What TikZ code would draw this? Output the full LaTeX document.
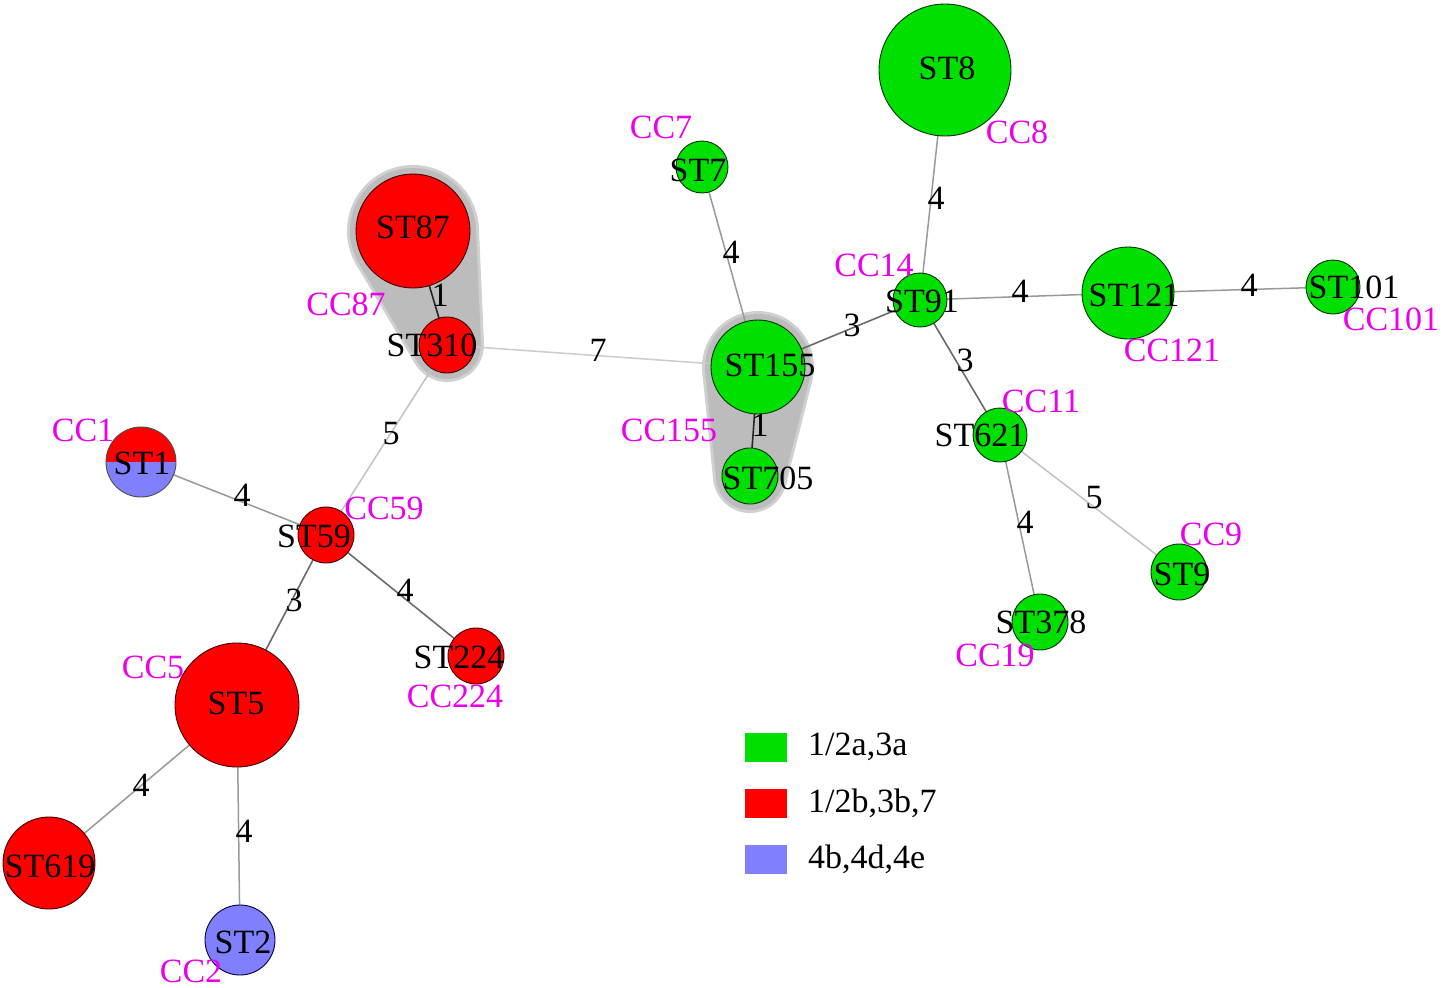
\documentclass[tikz,border=0pt]{standalone}
\usepackage{fontspec}
\setmainfont{Liberation Serif}
\usetikzlibrary{calc}
\pgfdeclarelayer{bg}
\pgfdeclarelayer{hull}
\pgfdeclarelayer{edges}
\pgfsetlayers{bg,hull,edges,main}
\definecolor{cgreen}{RGB}{0,224,0}
\definecolor{cred}{RGB}{255,0,0}
\definecolor{cblue}{RGB}{128,128,255}
\definecolor{cmag}{RGB}{235,0,235}
\definecolor{hullfill}{RGB}{188,188,188}
\definecolor{hullring}{RGB}{208,208,208}
% convex hull of two circles: colour c1 r1 c2 r2 v+x v+y v-x v-y pad
\newcommand\hullfill[9]{%
 \fill[#1] (#2) circle[radius={#3+#9}];
 \fill[#1] (#4) circle[radius={#5+#9}];
 \fill[#1] ($(#2)+({(#3+#9)*(\vpx)},{(#3+#9)*(\vpy)})$) -- ($(#4)+({(#5+#9)*(\vpx)},{(#5+#9)*(\vpy)})$) --
 ($(#4)+({(#5+#9)*(#7)},{(#5+#9)*(#8)})$) -- ($(#2)+({(#3+#9)*(#7)},{(#3+#9)*(#8)})$) -- cycle;}
\begin{document}
\begin{tikzpicture}[x=1pt,y=-1pt,
  every node/.style={font=\fontsize{34}{37}\selectfont, inner sep=0pt},
  st/.style={circle, line width=0.9pt, minimum size=#1, outer sep=0pt},
  gst/.style={st=#1, fill=cgreen, draw=green!20!black},
  rst/.style={st=#1, fill=cred, draw=red!25!black},
  bst/.style={st=#1, fill=cblue, draw=blue!25!black},
  stl/.style={text=black},
  cc/.style={text=cmag},
  elbl/.style={text=black},
  e1/.style={draw=black!85, line width=1.6pt},
  e3/.style={draw=black!58, line width=1.6pt},
  e4/.style={draw=black!40, line width=1.5pt},
  e5/.style={draw=black!24, line width=1.5pt},
  e7/.style={draw=black!20, line width=1.5pt},
  legbox/.style={minimum width=42pt, minimum height=29pt},
]
\begin{pgfonlayer}{bg}
\fill[white] (0,0) rectangle (1452,988);
\end{pgfonlayer}
\useasboundingbox (0,0) rectangle (1452,988);

% circles
\node[gst=132pt] (st8) at (945,70) {};
\node[gst=52pt] (st7) at (702,167) {};
\node[gst=54pt] (st91) at (920,300) {};
\node[gst=92pt] (st121) at (1128,293) {};
\node[gst=54pt] (st101) at (1333,287) {};
\node[gst=94pt] (st155) at (758,367) {};
\node[gst=56pt] (st705) at (750,476) {};
\node[gst=54pt] (st621) at (1000,435) {};
\node[gst=56pt] (st9) at (1179,572) {};
\node[gst=56pt] (st378) at (1040,622) {};
\node[rst=114pt] (st87) at (413,231) {};
\node[rst=56pt] (st310) at (447,345) {};
\node[st=70pt, draw=black!70, path picture={
  \fill[cred] (path picture bounding box.north west) rectangle (path picture bounding box.east);
  \fill[cblue] (path picture bounding box.west) rectangle (path picture bounding box.south east);}] (st1) at (141,462) {};
\node[rst=56pt] (st59) at (326,535) {};
\node[rst=56pt] (st224) at (476,656) {};
\node[rst=124pt] (st5) at (237,705) {};
\node[rst=92pt] (st619) at (49,863) {};
\node[bst=70pt] (st2) at (240,940) {};

% hulls
\begin{pgfonlayer}{hull}
\def\vpx{-0.8597}\def\vpy{0.5108}
\hullfill{hullring}{st87}{57}{st310}{28}{}{0.9991}{-0.0436}{9}
\hullfill{hullfill}{st87}{57}{st310}{28}{}{0.9991}{-0.0436}{6}
\def\vpx{-0.9948}\def\vpy{0.1012}
\hullfill{hullring}{st155}{47}{st705}{28}{}{0.9694}{0.2454}{9}
\hullfill{hullfill}{st155}{47}{st705}{28}{}{0.9694}{0.2454}{6}
\end{pgfonlayer}

% edges
\begin{pgfonlayer}{edges}
\draw[e4] (st8) -- (st91);
\draw[e4] (st7) -- (st155);
\draw[e1] (st87) -- (st310);
\draw[e7] (st310) -- (st155);
\draw[e3] (st155) -- (st91);
\draw[e4] (st91) -- (st121);
\draw[e4] (st121) -- (st101);
\draw[e3] (st91) -- (st621);
\draw[e1] (st155) -- (st705);
\draw[e5] (st310) -- (st59);
\draw[e4] (st1) -- (st59);
\draw[e3] (st59) -- (st5);
\draw[e3] (st59) -- (st224);
\draw[e4] (st621) -- (st378);
\draw[e5] (st621) -- (st9);
\draw[e4] (st5) -- (st619);
\draw[e4] (st5) -- (st2);
\end{pgfonlayer}

% edge labels
\node[elbl] (w1) at (936,198) {4};
\node[elbl] (w2) at (731,252) {4};
\node[elbl] (w3) at (440,295) {1};
\node[elbl] (w4) at (598,350) {7};
\node[elbl] (w5) at (852,325) {3};
\node[elbl] (w6) at (1020,291) {4};
\node[elbl] (w7) at (1249,285) {4};
\node[elbl] (w8) at (965,360) {3};
\node[elbl] (w9) at (760,425) {1};
\node[elbl] (w10) at (391,434) {5};
\node[elbl] (w11) at (242,495) {4};
\node[elbl] (w12) at (294,600) {3};
\node[elbl] (w13) at (405,590) {4};
\node[elbl] (w14) at (1025,522) {4};
\node[elbl] (w15) at (1094,498) {5};
\node[elbl] (w16) at (141,785) {4};
\node[elbl] (w17) at (244,831) {4};

% ST labels
\node[stl] (t8) at (947,68) {ST8};
\node[stl] (t7) at (698,170) {ST7};
\node[stl] (t91) at (922,301) {ST91};
\node[stl] (t121) at (1134,295) {ST121};
\node[stl] (t101) at (1354,287) {ST101};
\node[stl] (t155) at (770,365) {ST155};
\node[stl] (t705) at (768,478) {ST705};
\node[stl] (t621) at (980,435) {ST621};
\node[stl] (t9) at (1182,574) {ST9};
\node[stl] (t378) at (1041,622) {ST378};
\node[stl] (t87) at (413,227) {ST87};
\node[stl] (t310) at (432,345) {ST310};
\node[stl] (t1) at (142,463) {ST1};
\node[stl] (t59) at (314,536) {ST59};
\node[stl] (t224) at (459,657) {ST224};
\node[stl] (t5) at (236,703) {ST5};
\node[stl] (t619) at (50,866) {ST619};
\node[stl] (t2) at (243,942) {ST2};

% CC labels
\node[cc] (c7) at (661,127) {CC7};
\node[cc] (c8) at (1017,132) {CC8};
\node[cc] (c14) at (874,265) {CC14};
\node[cc] (c87) at (346,304) {CC87};
\node[cc] (c155) at (669,430) {CC155};
\node[cc] (c1) at (83,430) {CC1};
\node[cc] (c59) at (384,508) {CC59};
\node[cc] (c11) at (1041,401) {CC11};
\node[cc] (c121) at (1172,350) {CC121};
\node[cc] (c101) at (1391,319) {CC101};
\node[cc] (c9) at (1211,534) {CC9};
\node[cc] (c19) at (995,655) {CC19};
\node[cc] (c5) at (153,667) {CC5};
\node[cc] (c224) at (455,696) {CC224};
\node[cc] (c2) at (191,971) {CC2};

% legend
\node[legbox, fill=cgreen] (lg1) at (766,747) {};
\node[legbox, fill=cred] (lg2) at (766,803) {};
\node[legbox, fill=cblue] (lg3) at (766,859) {};
\node[anchor=west] (lt1) at (808,747) {1/2a,3a};
\node[anchor=west] (lt2) at (808,803) {1/2b,3b,7};
\node[anchor=west] (lt3) at (808,859) {4b,4d,4e};
\end{tikzpicture}
\end{document}
